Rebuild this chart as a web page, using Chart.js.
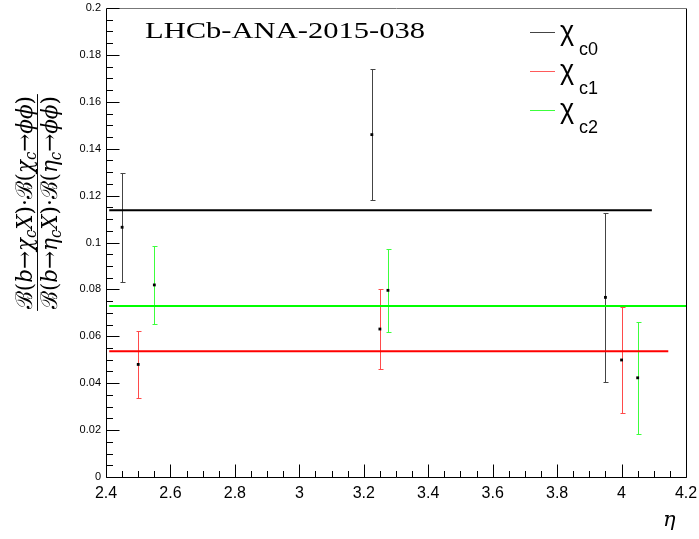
<!DOCTYPE html>
<html>
<head>
<meta charset="utf-8">
<script src="https://cdn.jsdelivr.net/npm/chart.js@4.4.1/dist/chart.umd.min.js"></script>
<style>
  html, body { margin: 0; padding: 0; background: #fff; }
</style>
</head>
<body>
<canvas id="c" width="699" height="539"></canvas>
<script>
// eta bins (shifted a bit per species, like in the plot) and ratio values
const etaC0 = [2.45, 3.225, 3.95];
const ratioC0 = [0.1065, 0.146, 0.0766];
const errC0 = [0.0232, 0.028, 0.036];

const etaC1 = [2.5, 3.25, 4.0];
const ratioC1 = [0.048, 0.0631, 0.0499];
const errC1 = [0.0144, 0.0171, 0.0227];

const etaC2 = [2.55, 3.275, 4.05];
const ratioC2 = [0.0819, 0.0796, 0.0423];
const errC2 = [0.0166, 0.0178, 0.0238];

// averages, drawn as horizontal lines
const avgC0 = 0.1137, avgC0Range = [2.41, 4.094];
const avgC1 = 0.0536, avgC1Range = [2.41, 4.145];
const avgC2 = 0.0729, avgC2Range = [2.41, 4.2];

const legendNames = ["c0", "c1", "c2"];
const colC0 = "#000000", colC1 = "#ff0000", colC2 = "#00ff00";

const toXY = (xs, ys) => xs.map((x, i) => ({ x: x, y: ys[i] }));

function lineSet(range, y, col) {
  return {
    data: [{ x: range[0], y: y }, { x: range[1], y: y }],
    showLine: true, borderColor: col, borderWidth: 2,
    pointRadius: 0, order: 2
  };
}
function pointSet(xs, ys) {
  return {
    data: toXY(xs, ys), showLine: false,
    pointStyle: "rect", pointRadius: 2, pointBorderWidth: 0,
    backgroundColor: "#000", borderColor: "#000", order: 1
  };
}

// draws a small math string: r = roman, i = italic, s = italic subscript
function fontFor(k, size) {
  if (k === "r") return size + "px 'DejaVu Serif'";
  if (k === "i") return "italic " + size + "px 'DejaVu Serif'";
  return "italic " + Math.round(size * 0.68) + "px 'DejaVu Serif'";
}
function mathWidth(ctx, parts, size) {
  let w = 0;
  parts.forEach(([t, k]) => {
    ctx.font = fontFor(k, size);
    w += ctx.measureText(t).width;
  });
  return w;
}
function drawMath(ctx, parts, x, y, size) {
  let cx = x - mathWidth(ctx, parts, size) / 2;
  parts.forEach(([t, k]) => {
    ctx.font = fontFor(k, size);
    ctx.fillText(t, cx, k === "s" ? y + size * 0.2 : y);
    cx += ctx.measureText(t).width;
  });
}

const numer = [["ℬ","r"],["(","r"],["b","i"],["→","r"],["χ","i"],["c","s"],["X","i"],[")","r"],["·","r"],
               ["ℬ","r"],["(","r"],["χ","i"],["c","s"],["→","r"],["ϕϕ","i"],[")","r"]];
const denom = [["ℬ","r"],["(","r"],["b","i"],["→","r"],["η","i"],["c","s"],["X","i"],[")","r"],["·","r"],
               ["ℬ","r"],["(","r"],["η","i"],["c","s"],["→","r"],["ϕϕ","i"],[")","r"]];

const rootStyle = {
  id: "rootStyle",
  beforeDatasetsDraw(chart) {
    const ctx = chart.ctx, xs = chart.scales.x, ys = chart.scales.y;
    const sets = [[etaC0, ratioC0, errC0, "#444"], [etaC1, ratioC1, errC1, "#ff4a4a"], [etaC2, ratioC2, errC2, "#3cff3c"]];
    ctx.save();
    ctx.lineWidth = 1;
    sets.forEach(([xv, yv, ev, col]) => {
      ctx.strokeStyle = col;
      xv.forEach((x, i) => {
        const px = Math.round(xs.getPixelForValue(x)) + 0.5;
        const top = Math.round(ys.getPixelForValue(yv[i] + ev[i])) + 0.5;
        const bot = Math.round(ys.getPixelForValue(yv[i] - ev[i])) + 0.5;
        ctx.beginPath();
        ctx.moveTo(px, top); ctx.lineTo(px, bot);
        ctx.moveTo(px - 2, top); ctx.lineTo(px + 3, top);
        ctx.moveTo(px - 2, bot); ctx.lineTo(px + 3, bot);
        ctx.stroke();
      });
    });
    ctx.restore();
  },
  afterDraw(chart) {
    const ctx = chart.ctx, xs = chart.scales.x, ys = chart.scales.y;
    const a = chart.chartArea;
    const L = Math.round(a.left) + 0.5, R = Math.round(a.right) + 0.5;
    const T = Math.round(a.top) + 0.5, B = Math.round(a.bottom) + 0.5;
    ctx.save();
    // frame
    ctx.lineWidth = 1;
    ctx.strokeStyle = "#000";
    ctx.beginPath();
    ctx.moveTo(L, T); ctx.lineTo(L, B); ctx.lineTo(R, B); ctx.lineTo(R, T);
    ctx.stroke();
    ctx.strokeStyle = "#777";
    ctx.beginPath(); ctx.moveTo(L, T); ctx.lineTo(R, T); ctx.stroke();
    // inward ticks
    ctx.strokeStyle = "#000";
    ctx.beginPath();
    for (let k = 0; k <= 40; k++) {
      const v = k * 0.005;
      const py = Math.round(ys.getPixelForValue(v)) + 0.5;
      const len = k % 4 === 0 ? 13 : 6.5;
      ctx.moveTo(L, py); ctx.lineTo(L + len, py);
    }
    for (let k = 0; k <= 36; k++) {
      const v = 2.4 + k * 0.05;
      const px = Math.round(xs.getPixelForValue(v)) + 0.5;
      const len = k % 4 === 0 ? 13 : 6.5;
      ctx.moveTo(px, B); ctx.lineTo(px, B - len);
    }
    ctx.stroke();

    // analysis tag
    ctx.fillStyle = "#000";
    ctx.font = "23px 'Liberation Serif'";
    ctx.textBaseline = "alphabetic";
    const tag = "LHCb-ANA-2015-038";
    const tw = ctx.measureText(tag).width;
    ctx.save();
    ctx.translate(145, 38);
    ctx.scale(280 / tw, 1);
    ctx.fillText(tag, 0, 0);
    ctx.restore();

    // legend
    const legLine = ["#444", "#ff5a5a", "#3cff3c"];
    const legY = [32, 71, 110];
    legendNames.forEach((n, i) => {
      ctx.strokeStyle = legLine[i];
      ctx.lineWidth = 1;
      ctx.beginPath();
      ctx.moveTo(530, legY[i] + 0.5); ctx.lineTo(555, legY[i] + 0.5);
      ctx.stroke();
      ctx.fillStyle = "#000";
      ctx.font = "27px 'Liberation Sans'";
      ctx.fillText("χ", 560, legY[i] + 8);
      ctx.font = "18px 'Liberation Sans'";
      ctx.fillText(n, 579, legY[i] + 23);
    });

    // x title
    ctx.font = "italic 21px 'DejaVu Serif'";
    ctx.fillText("η", 663, 526);

    // y title (rotated fraction)
    const size = 23;
    const cx = 37.5, cy = 202.5, target = 213;
    ctx.save();
    ctx.translate(cx, cy);
    ctx.rotate(-Math.PI / 2);
    const w = Math.max(mathWidth(ctx, numer, size), mathWidth(ctx, denom, size));
    ctx.scale(target / w, 1);
    ctx.strokeStyle = "#000";
    ctx.lineWidth = 1;
    ctx.beginPath(); ctx.moveTo(-w / 2 - 2, 0); ctx.lineTo(w / 2 + 2, 0); ctx.stroke();
    drawMath(ctx, numer, 0, -6, size);
    drawMath(ctx, denom, 0, 19, size);
    ctx.restore();
    ctx.restore();
  }
};

new Chart(document.getElementById("c"), {
  type: "scatter",
  data: {
    datasets: [
      lineSet(avgC0Range, avgC0, colC0),
      lineSet(avgC1Range, avgC1, colC1),
      lineSet(avgC2Range, avgC2, colC2),
      pointSet(etaC0, ratioC0),
      pointSet(etaC1, ratioC1),
      pointSet(etaC2, ratioC2)
    ]
  },
  options: {
    responsive: false,
    animation: false,
    devicePixelRatio: 1,
    layout: { padding: { left: 0, right: 13, top: 8, bottom: 0 } },
    plugins: { legend: { display: false }, tooltip: { enabled: false } },
    scales: {
      x: {
        type: "linear", min: 2.4, max: 4.2,
        grid: { display: false, drawTicks: false },
        border: { display: false },
        ticks: {
          stepSize: 0.2, padding: 7, color: "#000", maxRotation: 0, autoSkip: false,
          font: { family: "'Liberation Sans'", size: 16 },
          callback: v => String(+v.toFixed(2))
        },
        afterFit: s => { s.height = 62; s.paddingLeft = 0; s.paddingRight = 0; }
      },
      y: {
        min: 0, max: 0.2,
        grid: { display: false, drawTicks: false },
        border: { display: false },
        ticks: {
          stepSize: 0.02, padding: 5, color: "#000",
          font: { family: "'Liberation Sans'", size: 11 },
          callback: v => String(+v.toFixed(3))
        },
        afterFit: s => { s.width = 106; s.paddingTop = 0; s.paddingBottom = 0; }
      }
    }
  },
  plugins: [rootStyle]
});
</script>
</body>
</html>
